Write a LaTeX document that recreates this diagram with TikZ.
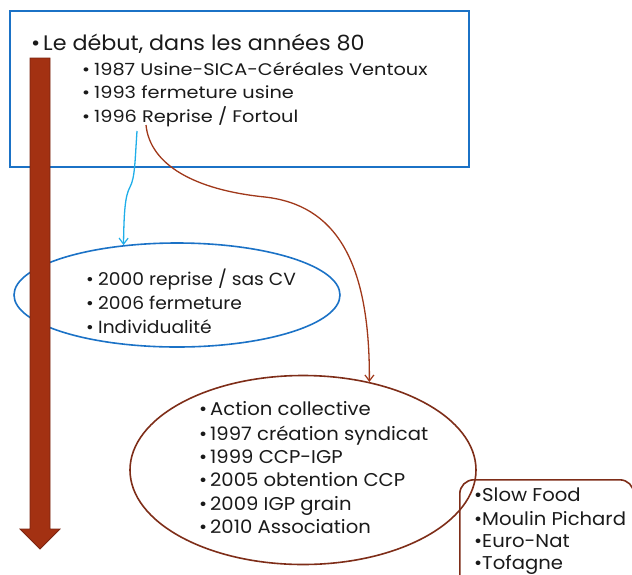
\documentclass[tikz,border=0pt]{standalone}
\usepackage{fontspec}
\setmainfont{Poppins}
\newfontfamily\widefam[FakeStretch=1.15]{Poppins}
\newfontfamily\medfam[FakeStretch=1.06]{Poppins}
\usetikzlibrary{arrows.meta,shapes.geometric}
\definecolor{frameblue}{HTML}{1B72C6}
\definecolor{linkcyan}{HTML}{1FAEE9}
\definecolor{linkbrown}{HTML}{A0381A}
\definecolor{ringbrown}{HTML}{7E2D18}
\definecolor{timefill}{HTML}{A33112}
\definecolor{timeedge}{HTML}{7A2410}
\definecolor{ink}{HTML}{1A1A1A}
\newcommand\blt[1]{\makebox[#1][l]{•}}

\begin{document}
\begin{tikzpicture}[x=1pt,y=-1pt,
  line/.style={anchor=base west, inner sep=0pt, text=ink},
  big/.style={line, font=\medfam\fontsize{21}{24}\selectfont},
  small/.style={line, font=\widefam\fontsize{16.8}{18}\selectfont},
  mid/.style={line, font=\medfam\fontsize{17.6}{21}\selectfont},
  midb/.style={line, font=\medfam\fontsize{18.5}{21}\selectfont},
  shapebox/.style={inner sep=0pt, line width=1.6pt},
  tip/.style={-{Straight Barb[length=6pt,width=9pt,line width=1.2pt]}, line width=1.3pt}]
\useasboundingbox (0,0) rectangle (632,574);

% frames
\node[shapebox, draw=frameblue, anchor=north west, minimum width=459pt, minimum height=156pt] (intro) at (9,10) {};
\node[shapebox, ellipse, draw=frameblue, minimum width=326pt, minimum height=104pt] (solo) at (177,295) {};
\node[shapebox, ellipse, draw=ringbrown, minimum width=346pt, minimum height=189pt] (group) at (303,470) {};
\node[shapebox, draw=ringbrown, rounded corners=14pt, anchor=north west, minimum width=174pt, minimum height=150pt] (partners) at (459,479) {};

% opening box
\node[big] (l0) at (31,50) {\blt{12pt}Le début, dans les années 80};
\node[small] (l1) at (82,75) {\blt{12pt}1987 Usine-SICA-Céréales Ventoux};
\node[small] (l2) at (82,98) {\blt{12pt}1993 fermeture usine};
\node[small] (l3) at (82,122) {\blt{12pt}1996 Reprise / Fortoul};

% individual path
\node[mid] (s1) at (86,285) {\blt{12pt}2000 reprise / sas CV};
\node[mid] (s2) at (86,309) {\blt{12pt}2006 fermeture};
\node[mid] (s3) at (86,333) {\blt{12pt}Individualité};

% collective path
\node[midb] (g1) at (199,415) {\blt{11pt}Action collective};
\node[midb] (g2) at (199,440) {\blt{11pt}1997 création syndicat};
\node[midb] (g3) at (199,463) {\blt{11pt}1999 CCP-IGP};
\node[midb] (g4) at (199,486) {\blt{11pt}2005 obtention CCP};
\node[midb] (g5) at (199,510) {\blt{11pt}2009 IGP grain};
\node[midb] (g6) at (199,533) {\blt{11pt}2010 Association};

% partners
\node[midb] (p1) at (474,501) {\blt{8pt}Slow Food};
\node[midb] (p2) at (474,525) {\blt{8pt}Moulin Pichard};
\node[midb] (p3) at (474,547) {\blt{8pt}Euro-Nat};
\node[midb] (p4) at (474,569) {\blt{8pt}Tofagne};

% links from 1996
\coordinate (fromA) at (137,131);
\coordinate (fromB) at (146,125);
\draw[tip, draw=linkcyan] (fromA) .. controls (135,160) and (135,178) .. (130,187)
  .. controls (125,196) and (124,212) .. (solo.137);
\draw[tip, draw=linkbrown] (fromB) .. controls (150,165) and (195,190) .. (265,197)
  .. controls (335,205) and (370,260) .. (group.53);

% timeline arrow
\draw[fill=timefill, draw=timeedge, line width=0.8pt]
  (30,58) -- (50,58) -- (50,529) -- (60,529) -- (40,549) -- (20,529) -- (30,529) -- cycle;
\end{tikzpicture}
\end{document}
